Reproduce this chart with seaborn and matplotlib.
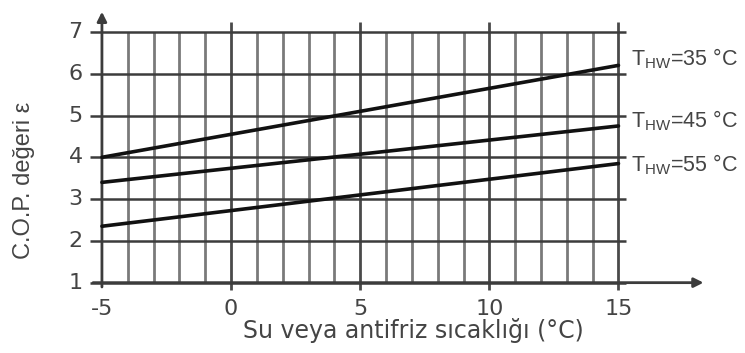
import matplotlib
matplotlib.use("Agg")
import matplotlib.pyplot as plt
import seaborn as sns
import pandas as pd
import numpy as np

# Data
water_temp = [-5, 15]
cop_35 = [4.0, 6.2]
cop_45 = [3.4, 4.75]
cop_55 = [2.35, 3.85]
series_labels = ["T$_{\\mathregular{HW}}$=35 °C", "T$_{\\mathregular{HW}}$=45 °C", "T$_{\\mathregular{HW}}$=55 °C"]
x_ticks = [-5, 0, 5, 10, 15]
y_ticks = [1, 2, 3, 4, 5, 6, 7]

df = pd.DataFrame({
    "x": water_temp * 3,
    "cop": cop_35 + cop_45 + cop_55,
    "series": [series_labels[0]] * 2 + [series_labels[1]] * 2 + [series_labels[2]] * 2,
})

sns.set_theme(style="white")
plt.rcParams["font.family"] = ["Liberation Sans", "DejaVu Sans"]
plt.rcParams["mathtext.fontset"] = "custom"
plt.rcParams["mathtext.rm"] = "Liberation Sans"

fig = plt.figure(figsize=(7.45, 3.53), dpi=100)
ax = fig.add_axes([0.1195, 0.1756, 0.832, 0.799])
ax.set_xlim(-5.5, 18.5)
ax.set_ylim(0.8, 7.55)
for s in ax.spines.values():
    s.set_visible(False)
ax.set_xticks([])
ax.set_yticks([])

grid_v = "#7a7a7a"
grid_h = "#3c3c3c"
# vertical grid
for xv in range(-4, 16):
    top = 7.25 if xv % 5 == 0 else 7.0
    bot = 0.83 if xv % 5 == 0 else 1.0
    ax.plot([xv, xv], [bot, top], color=grid_v if xv % 5 else "#4a4a4a", lw=2.0, zorder=1, solid_capstyle="butt")
# horizontal grid
for yv in y_ticks:
    ax.plot([-5.45, 15.3], [yv, yv], color=grid_h, lw=1.8, zorder=1, solid_capstyle="butt")

# axes arrows
ax.annotate("", xy=(-5, 7.55), xytext=(-5, 0.83),
            arrowprops=dict(arrowstyle="-|>", color="#3c3c3c", lw=2.0, mutation_scale=14), zorder=2)
ax.annotate("", xy=(18.4, 1.0), xytext=(-5.45, 1.0),
            arrowprops=dict(arrowstyle="-|>", color="#3c3c3c", lw=2.0, mutation_scale=14), zorder=2)

sns.lineplot(data=df, x="x", y="cop", hue="series", units="series", estimator=None,
             palette=["#111111"] * 3, lw=2.6, legend=False, ax=ax, zorder=3)
ax.set_xlabel("")
ax.set_ylabel("")

txt = "#444444"
tick_font = ["DejaVu Sans"]
for xt in x_ticks:
    ax.text(xt, 0.6, f"{xt}", ha="center", va="top", fontsize=16, color=txt, family=tick_font)
for yt in y_ticks:
    ax.text(-5.75, yt, f"{yt}", ha="right", va="center", fontsize=16, color=txt, family=tick_font)

label_y = [6.35, 4.88, 3.82]
for lab, ly in zip(series_labels, label_y):
    ax.text(15.5, ly, lab, ha="left", va="center", fontsize=15.5, color=txt)

fig.text(0.555, 0.065, "Su veya antifriz sıcaklığı (°C)", ha="center", va="center", fontsize=17,
         color=txt, family=["DejaVu Sans"])
fig.text(0.032, 0.49, "C.O.P. değeri ε", ha="center", va="center", rotation=90, fontsize=17, color=txt)

fig.savefig("out.png", dpi=100)
